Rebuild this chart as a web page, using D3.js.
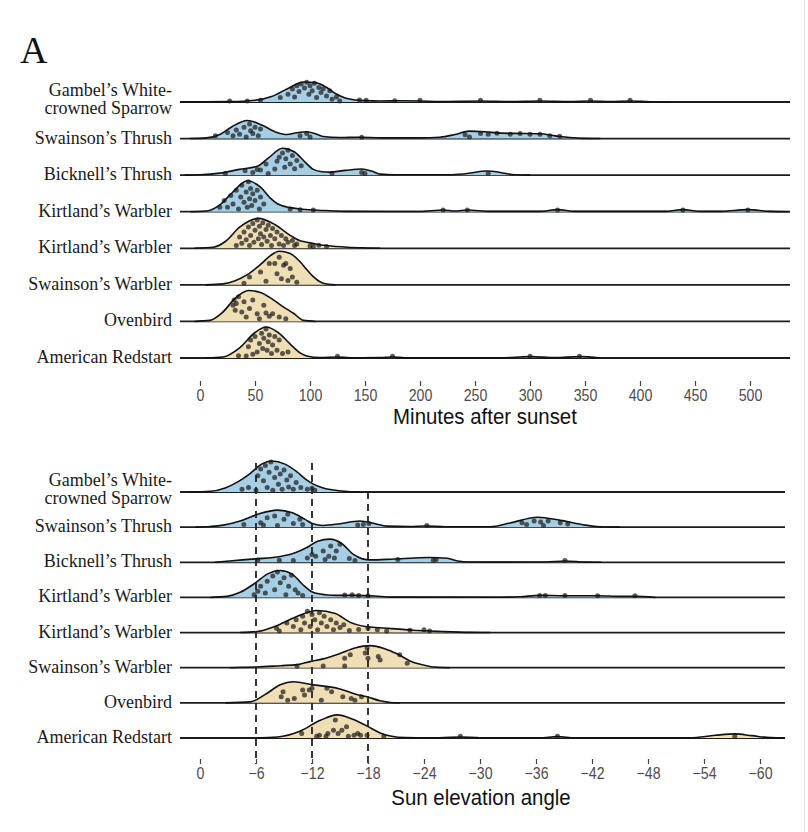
<!DOCTYPE html>
<html><head><meta charset="utf-8">
<script src="https://cdn.jsdelivr.net/npm/d3@7"></script>
<style>body{margin:0;background:#fff}</style>
</head><body><svg id="c" width="808" height="832"></svg>
<script>
// ---------- DATA ----------
const species = ["Gambel’s White-|crowned Sparrow", "Swainson’s Thrush", "Bicknell’s Thrush", "Kirtland’s Warbler", "Kirtland’s Warbler", "Swainson’s Warbler", "Ovenbird", "American Redstart"];
const speciesGroup = ["blue", "blue", "blue", "blue", "tan", "tan", "tan", "tan"];

const minutesTicks = [0, 50, 100, 150, 200, 250, 300, 350, 400, 450, 500];
const angleTicks = [0, -6, -12, -18, -24, -30, -36, -42, -48, -54, -60];
const twilightAngles = [-6, -12, -18];

// density outlines: [minutes after sunset, relative density]
const minutesDensity = [
  [[-18,0],[27,0.01],[50,0.05],[65,0.16],[80,0.4],[94,0.59],[105,0.57],[114,0.45],[123,0.25],[132,0.12],[141,0.06],[150,0.04],[164,0.03],[182,0.035],[200,0.03],[218,0.015],[255,0.03],[282,0.015],[309,0.03],[336,0.015],[355,0.03],[373,0.015],[391,0.03],[409,0.005],[427,0]],
  [[-9,0],[6,0.02],[18,0.12],[29,0.35],[43,0.53],[56,0.4],[70,0.18],[79,0.12],[88,0.17],[97,0.2],[105,0.14],[112,0.06],[127,0.03],[145,0.04],[164,0.02],[200,0.02],[218,0.04],[232,0.12],[245,0.22],[259,0.2],[273,0.16],[291,0.15],[309,0.14],[323,0.08],[336,0.03],[348,0.005],[364,0]],
  [[-14,0],[0,0.01],[18,0.06],[36,0.17],[52,0.26],[62,0.5],[75,0.79],[86,0.68],[95,0.4],[103,0.17],[111,0.1],[118,0.09],[132,0.14],[147,0.18],[156,0.12],[164,0.03],[177,0.01],[227,0.01],[241,0.04],[261,0.12],[273,0.08],[286,0.01],[300,0]],
  [[-9,0],[6,0.02],[18,0.2],[29,0.55],[43,0.91],[55,0.72],[64,0.4],[70,0.24],[82,0.12],[91,0.08],[103,0.05],[118,0.03],[136,0.01],[200,0.005],[221,0.05],[232,0.02],[243,0.05],[264,0.01],[309,0.01],[325,0.06],[341,0.01],[423,0.01],[439,0.06],[455,0.01],[473,0.01],[498,0.06],[518,0.01],[536,0]],
  [[-5,0],[12,0.03],[23,0.2],[36,0.62],[53,0.88],[68,0.7],[82,0.38],[91,0.22],[97,0.18],[106,0.12],[115,0.08],[134,0.03],[150,0.01],[164,0]],
  [[5,0],[21,0.03],[32,0.12],[43,0.3],[55,0.6],[64,0.86],[72,0.99],[82,0.92],[91,0.68],[97,0.45],[103,0.24],[112,0.05],[123,0]],
  [[-5,0],[9,0.03],[20,0.25],[32,0.68],[44,0.91],[55,0.85],[66,0.65],[77,0.4],[85,0.24],[94,0.03],[105,0]],
  [[5,0],[21,0.03],[36,0.3],[50,0.75],[60,0.91],[71,0.75],[82,0.41],[91,0.15],[97,0.06],[109,0.01],[125,0.03],[136,0.005],[164,0.01],[175,0.03],[186,0.005],[273,0.005],[300,0.04],[323,0.01],[345,0.04],[364,0]]
];

// jittered observations: [minutes after sunset, vertical jitter in density units]
const minutesPoints = [
  [[27,0],[43,0],[55,0.02],[73,0.1],[80,0.2],[84,0.35],[86,0.12],[88,0.45],[90,0.28],[92,0.5],[95,0.38],[97,0.55],[99,0.2],[100,0.45],[102,0.3],[104,0.52],[106,0.1],[108,0.4],[110,0.25],[112,0.36],[115,0.15],[118,0.3],[120,0.05],[124,0.12],[127,0],[145,0.03],[151,0.02],[177,0.01],[200,0.02],[255,0.02],[309,0.02],[355,0.02],[391,0.02]],
  [[14,0.05],[25,0.15],[30,0.05],[33,0.22],[36,0.1],[40,0.3],[42,0.02],[45,0.4],[46,0.2],[48,0.12],[50,0.3],[53,0.05],[55,0.25],[91,0.05],[97,0.12],[100,0.02],[147,0.01],[241,0.08],[245,0.02],[255,0.12],[262,0.1],[270,0.13],[282,0.1],[291,0.12],[300,0.1],[309,0.1],[318,0.05],[327,0.04]],
  [[23,0.02],[41,0.1],[48,0.05],[52,0.14],[55,0.12],[60,0.3],[62,0.02],[68,0.15],[70,0.38],[72,0.5],[75,0.62],[77,0.2],[78,0.45],[80,0.7],[82,0.3],[84,0.55],[86,0.16],[88,0.4],[92,0.25],[120,0.02],[147,0.05],[150,0.02],[262,0.02]],
  [[18,0.1],[22,0.3],[25,0.1],[28,0.45],[30,0.2],[33,0.6],[35,0.05],[37,0.4],[38,0.75],[40,0.25],[42,0.55],[43,0.1],[44,0.85],[45,0.35],[46,0.65],[47,0.15],[48,0.5],[50,0.3],[52,0.6],[54,0.05],[55,0.4],[58,0.2],[82,0.05],[91,0.03],[103,0.02],[221,0.02],[243,0.02],[325,0.02],[439,0.02],[498,0.02]],
  [[33,0.05],[36,0.3],[38,0.12],[40,0.45],[42,0.22],[44,0.6],[45,0.05],[46,0.35],[48,0.7],[49,0.15],[50,0.5],[52,0.8],[53,0.25],[54,0.62],[55,0.4],[56,0.08],[57,0.72],[58,0.3],[60,0.52],[61,0.18],[62,0.65],[64,0.35],[65,0.05],[66,0.55],[68,0.25],[70,0.45],[72,0.1],[74,0.35],[76,0.05],[78,0.25],[80,0.15],[84,0.2],[86,0.05],[88,0.1],[100,0.04],[103,0.02],[108,0.06],[115,0.02]],
  [[40,0.02],[45,0.2],[55,0.35],[60,0.08],[63,0.6],[68,0.6],[70,0.3],[72,0.78],[74,0.15],[76,0.55],[78,0.6],[80,0.1],[82,0.45],[84,0.2],[88,0.05]],
  [[30,0.45],[31,0.6],[32,0.3],[33,0.5],[35,0.7],[38,0.25],[40,0.55],[42,0.1],[45,0.35],[48,0.6],[52,0.2],[54,0.05],[58,0.45],[60,0.22],[63,0.12],[66,0.2],[72,0.1],[78,0.05]],
  [[35,0.04],[42,0.03],[44,0.3],[46,0.5],[48,0.08],[50,0.6],[52,0.15],[54,0.4],[56,0.7],[57,0.25],[58,0.55],[60,0.82],[61,0.2],[62,0.45],[63,0.65],[65,0.1],[66,0.35],[68,0.6],[70,0.2],[72,0.5],[75,0.1],[80,0.15],[125,0.02],[175,0.02],[300,0.02],[345,0.02]]
];

// density outlines: [sun elevation angle, relative density]
const angleDensity = [
  [[1.1,0],[-1.1,0.02],[-2.7,0.12],[-4.0,0.29],[-5.4,0.55],[-6.6,0.82],[-7.7,0.91],[-9.1,0.82],[-10.4,0.59],[-11.3,0.38],[-12.1,0.24],[-13.2,0.12],[-14.3,0.06],[-15.5,0.02],[-17.1,0]],
  [[0.5,0],[-1.1,0.02],[-2.5,0.06],[-4.3,0.18],[-6.2,0.38],[-8.3,0.5],[-9.9,0.42],[-11.3,0.22],[-12.1,0.1],[-13.2,0.05],[-15,0.1],[-17.1,0.18],[-18.8,0.1],[-20,0.03],[-22.5,0.02],[-24.3,0.035],[-26.3,0.01],[-31.1,0.01],[-33.2,0.12],[-36.2,0.29],[-38.6,0.2],[-41.3,0.06],[-43.2,0.005],[-45,0]],
  [[-1.6,0],[-3.2,0.04],[-5.9,0.1],[-8.6,0.17],[-10.2,0.28],[-11.5,0.44],[-12.6,0.62],[-13.9,0.68],[-15.2,0.55],[-16.4,0.24],[-17.4,0.1],[-18.2,0.07],[-20.4,0.09],[-22.5,0.12],[-24.6,0.14],[-26.5,0.12],[-27.6,0.04],[-28.9,0.01],[-32.1,0.005],[-37,0.01],[-39.1,0.04],[-41.3,0.005],[-43,0]],
  [[-1.1,0],[-2.9,0.03],[-4.3,0.15],[-5.9,0.42],[-7.3,0.7],[-8.6,0.79],[-9.9,0.68],[-11,0.38],[-12.1,0.15],[-13.4,0.08],[-14.7,0.06],[-16.6,0.06],[-18.8,0.04],[-20.4,0.01],[-32.1,0.005],[-34.3,0.02],[-36.4,0.06],[-39.1,0.05],[-42.6,0.05],[-45,0.03],[-46.6,0.03],[-48.8,0]],
  [[-4.3,0],[-6.1,0.03],[-8,0.18],[-10.2,0.45],[-12.5,0.65],[-14.5,0.56],[-16.1,0.3],[-17.7,0.18],[-19.3,0.14],[-21.4,0.1],[-22.8,0.07],[-26,0.03],[-28.9,0.005],[-31.1,0]],
  [[-3.2,0],[-6.1,0.02],[-8.6,0.06],[-10.4,0.09],[-11.8,0.18],[-13.2,0.26],[-15,0.42],[-16.6,0.58],[-18.2,0.65],[-19.8,0.56],[-21.1,0.41],[-22.5,0.2],[-23.6,0.1],[-25,0.02],[-26.8,0]],
  [[-2.7,0],[-5.4,0.03],[-7,0.25],[-8.6,0.53],[-10,0.62],[-12.1,0.53],[-13.9,0.47],[-15,0.41],[-16.6,0.26],[-17.9,0.18],[-19.3,0.06],[-20.4,0.01],[-21.4,0]],
  [[-5.9,0],[-8.3,0.03],[-10.7,0.2],[-12.9,0.52],[-14.7,0.68],[-16.3,0.56],[-17.9,0.35],[-19.3,0.15],[-20.4,0.06],[-22,0.01],[-25.7,0.005],[-27.9,0.03],[-30,0.005],[-36.4,0.005],[-38.3,0.04],[-40.2,0.005],[-52.5,0.005],[-55.2,0.08],[-57.3,0.12],[-59.1,0.07],[-61.1,0.01],[-62.7,0]]
];

// jittered observations: [sun elevation angle, vertical jitter in density units]
const anglePoints = [
  [[-4.5,0.05],[-5.2,0.1],[-6.0,0.02],[-6.2,0.45],[-6.5,0.65],[-6.8,0.3],[-7.0,0.75],[-7.2,0.1],[-7.4,0.55],[-7.6,0.85],[-7.8,0.02],[-8.0,0.4],[-8.2,0.68],[-8.4,0.2],[-8.6,0.5],[-8.8,0.05],[-9.0,0.62],[-9.3,0.32],[-9.5,0.12],[-9.7,0.45],[-10.0,0.05],[-10.3,0.25],[-10.8,0.1],[-11.5,0.05],[-12.0,0.08],[-12.3,0.02]],
  [[-4.7,0.05],[-6.5,0.1],[-6.8,0.03],[-7.2,0.25],[-8.0,0.3],[-8.3,0.02],[-9.0,0.2],[-9.4,0.35],[-10.0,0.08],[-10.7,0.2],[-11.0,0.05],[-16.9,0.03],[-17.5,0.05],[-18.1,0.08],[-24.3,0.02],[-34.5,0.1],[-35.0,0.05],[-35.8,0.15],[-36.5,0.12],[-36.8,0.02],[-37.3,0.15],[-38.6,0.1],[-39.4,0.06]],
  [[-6.2,0.04],[-8.5,0.03],[-10.0,0.02],[-11.5,0.1],[-12.0,0.2],[-12.4,0.15],[-13.2,0.3],[-13.4,0.05],[-13.8,0.15],[-14.0,0.45],[-14.4,0.1],[-14.6,0.3],[-15.0,0.5],[-16.0,0.08],[-16.6,0.02],[-21.2,0.05],[-25.0,0.03],[-25.3,0.05],[-39.1,0.02]],
  [[-5.8,0.05],[-6.2,0.15],[-6.5,0.3],[-7.0,0.1],[-7.2,0.45],[-7.8,0.6],[-8.0,0.2],[-8.3,0.72],[-8.6,0.4],[-9.0,0.55],[-9.2,0.05],[-9.5,0.3],[-9.8,0.62],[-10.2,0.2],[-10.5,0.1],[-11.0,0.03],[-15.5,0.04],[-16.3,0.05],[-17.0,0.03],[-18.0,0.02],[-36.4,0.03],[-37.0,0.03],[-39.1,0.03],[-42.6,0.02],[-46.6,0.02]],
  [[-8.2,0.1],[-8.5,0.02],[-9.3,0.25],[-10.0,0.15],[-10.3,0.35],[-10.8,0.05],[-11.0,0.45],[-11.2,0.25],[-11.5,0.6],[-11.8,0.15],[-12.0,0.5],[-12.3,0.35],[-12.6,0.05],[-12.8,0.55],[-13.0,0.25],[-13.3,0.45],[-13.6,0.15],[-14.0,0.35],[-14.3,0.05],[-14.6,0.25],[-15.0,0.12],[-15.4,0.2],[-16.0,0.03],[-17.0,0.06],[-18.0,0.1],[-19.0,0.05],[-20.0,0.02],[-22.5,0.04],[-24.0,0.05],[-24.6,0.02]],
  [[-10.4,0.01],[-13.2,0.02],[-15.5,0.25],[-15.5,0.02],[-16.1,0.35],[-17.7,0.4],[-17.9,0.55],[-18.0,0.25],[-19.1,0.3],[-19.3,0.2],[-21.4,0.35],[-22.2,0.1]],
  [[-8.9,0.3],[-8.7,0.15],[-9.4,0.05],[-10.1,0.1],[-11.0,0.35],[-11.2,0.2],[-11.7,0.35],[-12.0,0.4],[-13.0,0.05],[-13.6,0.4],[-14.1,0.3],[-15.3,0.15],[-16.2,0.1],[-16.6,0.05],[-17.3,0.15]],
  [[-10.9,0.1],[-12.5,0.02],[-12.8,0.05],[-13.5,0.02],[-13.7,0.1],[-14.5,0.5],[-14.3,0.2],[-14.8,0.1],[-15.2,0.2],[-15.7,0.3],[-15.9,0.02],[-16.5,0.05],[-16.9,0.1],[-17.2,0.05],[-17.9,0.05],[-19.7,0.02],[-27.9,0.02],[-38.3,0.02],[-57.3,0.02]]
];

// ---------- DRAWING ----------
const svg = d3.select("#c");
const fillColor = d3.scaleOrdinal().domain(["blue", "tan"]).range(["#a6cfe5", "#f0dfb4"]);
const hScale = d3.scaleLinear().domain([0, 1]).range([0, 34]);
const serif = "'Liberation Serif', 'Times New Roman', serif";
const sans = "'Liberation Sans', Arial, sans-serif";

svg.append("text").attr("x", 20).attr("y", 63).attr("font-family", serif)
  .attr("font-size", 38).attr("fill", "#111").text("A");

// faint frame line at right edge
svg.append("line").attr("x1", 804.5).attr("x2", 804.5).attr("y1", 0).attr("y2", 832)
  .attr("stroke", "#e4e4e4").attr("stroke-width", 1);

function panel(cfg) {
  const g = svg.append("g");
  const x = cfg.x;
  const rowY = d3.scalePoint().domain(d3.range(species.length)).range(cfg.rows);

  species.forEach((name, i) => {
    const base = rowY(i);
    const row = g.append("g");
    row.append("line").attr("x1", cfg.lineX[0]).attr("x2", cfg.lineX[1])
      .attr("y1", base).attr("y2", base).attr("stroke", "#1c1c1c").attr("stroke-width", 1.8);
    const area = d3.area().x(d => x(d[0])).y0(base).y1(d => base - hScale(d[1])).curve(d3.curveMonotoneX);
    const line = d3.line().x(d => x(d[0])).y(d => base - hScale(d[1])).curve(d3.curveMonotoneX);
    row.append("path").attr("d", area(cfg.density[i])).attr("fill", fillColor(speciesGroup[i]));
    row.selectAll("circle").data(cfg.points[i]).join("circle")
      .attr("cx", d => x(d[0])).attr("cy", d => base - hScale(d[1]) - 1)
      .attr("r", 2.5).attr("fill", "#1e1e1e").attr("fill-opacity", 0.72);
    row.append("path").attr("d", line(cfg.density[i])).attr("fill", "none")
      .attr("stroke", "#111").attr("stroke-width", 1.6);

    const parts = name.split("|");
    if (parts.length === 1) {
      g.append("text").attr("x", 172).attr("y", base + 5).attr("text-anchor", "end")
        .attr("font-family", serif).attr("font-size", 18).attr("fill", "#1a1a1a").text(parts[0]);
    } else {
      parts.forEach((p, k) => {
        g.append("text").attr("x", 172).attr("y", base - 6 + k * 18).attr("text-anchor", "end")
          .attr("font-family", serif).attr("font-size", 18).attr("fill", "#1a1a1a").text(p);
      });
    }
  });

  if (cfg.after) cfg.after(g, rowY);

  const axis = d3.axisBottom(x).tickValues(cfg.ticks).tickSize(5).tickPadding(3)
    .tickFormat(cfg.fmt);
  const ag = g.append("g").attr("transform", `translate(0,${cfg.axisY})`).call(axis);
  ag.select(".domain").remove();
  ag.selectAll(".tick line").attr("stroke", "#444").attr("stroke-width", 1.2);
  ag.selectAll(".tick text").attr("font-family", sans).attr("font-size", 16.5)
    .attr("fill", "#4d4d4d").attr("transform", "scale(0.86,1)");
  g.append("text").attr("x", cfg.titleX).attr("y", cfg.titleY).attr("text-anchor", "middle")
    .attr("font-family", sans).attr("font-size", 21.5).attr("fill", "#111")
    .attr("transform", `translate(${cfg.titleX},0) scale(0.95,1) translate(${-cfg.titleX},0)`)
    .text(cfg.title);
}

panel({
  x: d3.scaleLinear().domain([0, 500]).range([200, 750]),
  rows: [102, 358], lineX: [180, 790],
  density: minutesDensity, points: minutesPoints,
  ticks: minutesTicks, fmt: d => d,
  axisY: 381, title: "Minutes after sunset", titleX: 485, titleY: 424
});

const xAngle = d3.scaleLinear().domain([0, -60]).range([200, 760]);
panel({
  x: xAngle,
  rows: [492, 738], lineX: [180, 785],
  density: angleDensity, points: anglePoints,
  ticks: angleTicks, fmt: d => d === 0 ? "0" : "\u2212" + Math.abs(d),
  axisY: 759, title: "Sun elevation angle", titleX: 481, titleY: 805,
  after: (g, rowY) => {
    g.selectAll("line.twilight").data(twilightAngles).join("line").attr("class", "twilight")
      .attr("x1", d => xAngle(d)).attr("x2", d => xAngle(d))
      .attr("y1", (d, i) => i < 2 ? rowY(0) - hScale(0.85) : rowY(0))
      .attr("y2", 764)
      .attr("stroke", "#222").attr("stroke-width", 1.8).attr("stroke-dasharray", "7,5");
  }
});
</script></body></html>
